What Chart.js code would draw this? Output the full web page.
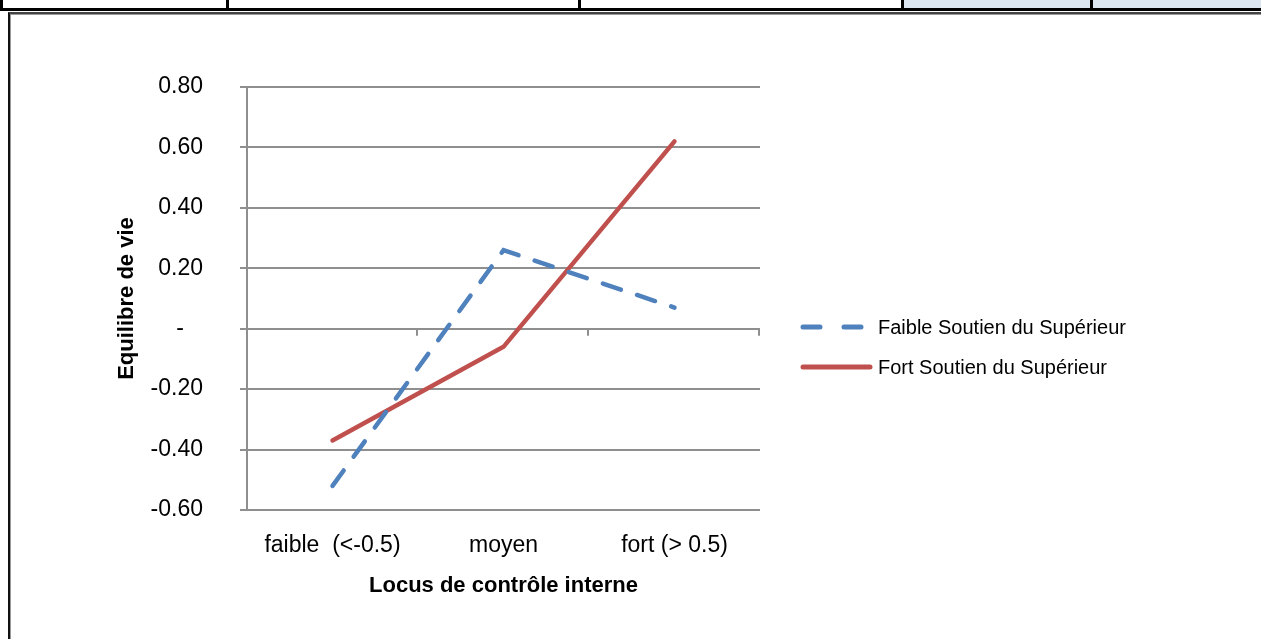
<!DOCTYPE html>
<html>
<head>
<meta charset="utf-8">
<script src="https://cdn.jsdelivr.net/npm/chart.js@4.4.0/dist/chart.umd.min.js"></script>
<style>
  html, body { margin: 0; padding: 0; background: #fff; }
  body { width: 1261px; height: 639px; position: relative; overflow: hidden; font-family: "Liberation Sans", Arial, sans-serif; }
  .sheet { position: absolute; left: 0; top: 0; width: 1261px; height: 8px; border-bottom: 3px solid #000; }
  .cell { position: absolute; top: 0; height: 8px; }
  .vline { position: absolute; top: 0; width: 3px; height: 8px; background: #000; }
  .frame { position: absolute; left: 8px; top: 12px; width: 1260px; height: 640px;
           border-top: 2px solid #444; border-left: 2px solid #111; box-shadow: inset 1px 1px 0 #999; }
  #chart { position: absolute; left: 0; top: 0; z-index: 2; }
  .legend { position: absolute; left: 800px; top: 0; z-index: 3; font-size: 20px; color: #000; }
  .legend .row { position: absolute; left: 0; white-space: nowrap; height: 24px; }
  .legend svg { position: absolute; left: 0; top: 0; }
  .legend span { position: absolute; left: 78px; top: 0; line-height: 24px; }
</style>
</head>
<body>
<div class="sheet"></div>
<div class="cell" style="left:904px;width:357px;background:#dce6f1"></div>
<div class="vline" style="left:0"></div>
<div class="vline" style="left:226px"></div>
<div class="vline" style="left:578px"></div>
<div class="vline" style="left:901px"></div>
<div class="vline" style="left:1090px"></div>
<div class="frame"></div>

<canvas id="chart" width="1261" height="639"></canvas>

<div class="legend">
  <div class="row" style="top:315px">
    <svg width="76" height="24"><line x1="3" y1="12" x2="62" y2="12" stroke="#4f81bd" stroke-width="5" stroke-linecap="round" stroke-dasharray="17 24"/></svg>
    <span>Faible Soutien du Supérieur</span>
  </div>
  <div class="row" style="top:355px">
    <svg width="76" height="24"><line x1="3" y1="12" x2="70" y2="12" stroke="#c0504d" stroke-width="5" stroke-linecap="round"/></svg>
    <span>Fort Soutien du Supérieur</span>
  </div>
</div>

<script>
// Locus de contrôle (x) vs Equilibre de vie (y)
const categories = ["faible  (<-0.5)", "moyen", "fort (> 0.5)"];
const faibleSoutien = [-0.52, 0.26, 0.07];
const fortSoutien = [-0.37, -0.06, 0.62];
const yTicks = [0.8, 0.6, 0.4, 0.2, 0, -0.2, -0.4, -0.6];
const yTickLabels = ["0.80", "0.60", "0.40", "0.20", "-   ", "-0.20", "-0.40", "-0.60"];

const FONT = "'Liberation Sans', Arial, sans-serif";
const GRID = "#8f8f8f";

// small tick marks on the zero line between categories (Excel style axis)
const zeroAxisTicks = {
  id: "zeroAxisTicks",
  beforeDatasetsDraw(chart) {
    const { ctx, chartArea } = chart;
    const y0 = chart.scales.y.getPixelForValue(0);
    const n = categories.length;
    const step = (chartArea.right - chartArea.left) / n;
    ctx.save();
    ctx.strokeStyle = GRID;
    ctx.lineWidth = 2;
    for (let i = 1; i <= n; i++) {
      const x = Math.round(chartArea.left + i * step) - 1;
      ctx.beginPath();
      ctx.moveTo(x, y0);
      ctx.lineTo(x, y0 + 7);
      ctx.stroke();
    }
    ctx.restore();
  },
};

new Chart(document.getElementById("chart"), {
  type: "line",
  data: {
    labels: categories,
    datasets: [
      {
        label: "Faible Soutien du Supérieur",
        data: faibleSoutien,
        borderColor: "#4f81bd",
        borderWidth: 4.5,
        borderDash: [19, 17],
        borderCapStyle: "round",
        pointRadius: 0,
        tension: 0,
      },
      {
        label: "Fort Soutien du Supérieur",
        data: fortSoutien,
        borderColor: "#c0504d",
        borderWidth: 4.5,
        borderCapStyle: "round",
        pointRadius: 0,
        tension: 0,
      },
    ],
  },
  options: {
    responsive: false,
    animation: false,
    layout: { padding: { left: 110, top: 87, right: 501, bottom: 36 } },
    plugins: { legend: { display: false }, tooltip: { enabled: false } },
    scales: {
      x: {
        offset: true,
        grid: { display: false, drawTicks: false, tickLength: 0 },
        border: { display: false },
        ticks: { padding: 22, color: "#000", font: { family: FONT, size: 23 }, maxRotation: 0 },
        title: {
          display: true,
          text: "Locus de contrôle interne",
          color: "#000",
          font: { family: FONT, size: 22, weight: "bold" },
        },
        afterFit: (s) => { s.height = 93; },
      },
      y: {
        min: -0.6,
        max: 0.8,
        afterBuildTicks: (s) => { s.ticks = yTicks.map((v) => ({ value: v })); },
        grid: { color: GRID, lineWidth: 2, tickLength: 7 },
        border: { display: true, color: GRID, width: 2 },
        ticks: {
          padding: 37,
          color: "#000",
          font: { family: FONT, size: 23 },
          callback: (v) => {
            const i = yTicks.findIndex((t) => Math.abs(t - v) < 1e-9);
            return i >= 0 ? yTickLabels[i] : "";
          },
        },
        title: {
          display: true,
          text: "Equilibre de vie",
          color: "#000",
          font: { family: FONT, size: 22, weight: "bold" },
        },
        afterFit: (s) => { s.width = 137; },
      },
    },
  },
  plugins: [zeroAxisTicks],
});
</script>
</body>
</html>
